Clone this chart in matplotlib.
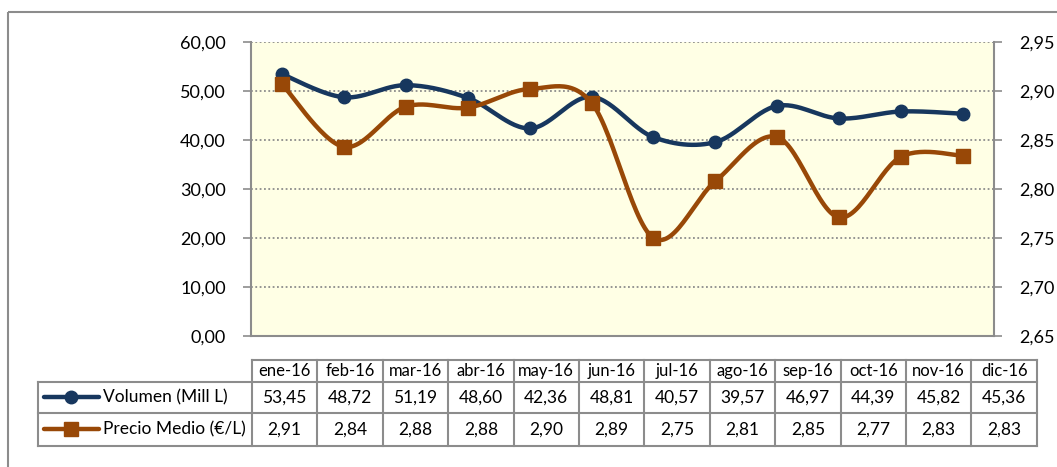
import numpy as np
import matplotlib
matplotlib.use("Agg")
import matplotlib.pyplot as plt
from matplotlib.patches import Rectangle

months = ["ene-16", "feb-16", "mar-16", "abr-16", "may-16", "jun-16",
          "jul-16", "ago-16", "sep-16", "oct-16", "nov-16", "dic-16"]
volumen = [53.45, 48.72, 51.19, 48.60, 42.36, 48.81, 40.57, 39.57, 46.97, 44.39, 45.82, 45.36]
precio = [2.907, 2.843, 2.884, 2.883, 2.902, 2.888, 2.750, 2.808, 2.853, 2.771, 2.833, 2.834]
left_ticks = [0, 10, 20, 30, 40, 50, 60]
right_ticks = [2.65, 2.70, 2.75, 2.80, 2.85, 2.90, 2.95]
series_names = ["Volumen (Mill L)", "Precio Medio (€/L)"]

NAVY = "#17375E"
BROWN = "#984807"
GRID = "#8C8C8C"
BG = "#FFFFE5"
FONT = "Lato"

W, H = 1057, 467
fig = plt.figure(figsize=(W / 100, H / 100), dpi=100)
plt.rcParams['font.family'] = [FONT, 'DejaVu Sans']

def fx(px):
    return px / W

def fy(py):
    return 1 - py / H

ax = fig.add_axes([fx(251), fy(336), fx(994) - fx(251), fy(42) - fy(336)])
ax2 = ax.twinx()
ax.set_zorder(1)
ax2.set_zorder(2)
ax.set_facecolor(BG)
ax2.patch.set_visible(False)

x = np.arange(len(months))
ax.set_xlim(-0.5, len(months) - 0.5)
ax.set_ylim(0, 60)
ax2.set_ylim(2.65, 2.95)

def comma(v):
    return f"{v:.2f}".replace(".", ",")

ax.set_yticks(left_ticks)
ax.set_yticklabels([comma(v) for v in left_ticks], fontsize=13)
ax2.set_yticks(right_ticks)
ax2.set_yticklabels([comma(v) for v in right_ticks], fontsize=13)
ax.set_xticks([])
for a in (ax, ax2):
    a.tick_params(axis='y', length=6, width=1.2, color=GRID, pad=12)
    for s in a.spines.values():
        s.set_visible(False)
ax.spines['left'].set_visible(True)
ax.spines['left'].set_color(GRID)
ax.spines['left'].set_linewidth(1.5)
ax.spines['bottom'].set_visible(True)
ax.spines['bottom'].set_color(GRID)
ax.spines['bottom'].set_linewidth(1.5)
ax2.spines['right'].set_visible(True)
ax2.spines['right'].set_color(GRID)
ax2.spines['right'].set_linewidth(1.5)
ax.yaxis.grid(True, linestyle=(0, (1, 1.4)), color=GRID, linewidth=1.3)
ax.set_axisbelow(True)


def smooth(axis, xs, ys, n=30):
    pts = axis.transData.transform(np.column_stack([xs, ys]))
    out = []
    m = len(pts)
    for i in range(m - 1):
        p0 = pts[i - 1] if i > 0 else pts[i]
        p1 = pts[i]
        p2 = pts[i + 1]
        p3 = pts[i + 2] if i + 2 < m else pts[i + 1]
        c1 = p1 + (p2 - p0) / 6
        c2 = p2 - (p3 - p1) / 6
        t = np.linspace(0, 1, n)[:, None]
        seg = ((1 - t) ** 3) * p1 + 3 * ((1 - t) ** 2) * t * c1 + 3 * (1 - t) * t ** 2 * c2 + t ** 3 * p2
        out.append(seg if i == 0 else seg[1:])
    out = np.vstack(out)
    d = axis.transData.inverted().transform(out)
    return d[:, 0], d[:, 1]

sx, sy = smooth(ax, x, volumen)
ax.plot(sx, sy, color=NAVY, lw=3.2, solid_capstyle='round', zorder=3)
ax.plot(x, volumen, 'o', color=NAVY, ms=9, zorder=4)

px_, py_ = smooth(ax2, x, precio)
ax2.plot(px_, py_, color=BROWN, lw=3.2, solid_capstyle='round', zorder=3)
ax2.plot(x, precio, 's', color=BROWN, ms=10, zorder=4)

ov = fig.add_axes([0, 0, 1, 1], zorder=5)
ov.set_xlim(0, W)
ov.set_ylim(H, 0)
ov.axis('off')
ov.patch.set_visible(False)

ov.add_patch(Rectangle((8, 12), W + 20, H + 20, fill=False, edgecolor="#8C8C8C", lw=1.5))

col_left = 252
col_w = 65.4
n = len(months)
col_right = col_left + n * col_w
tab_left = 37.5
y_head_top, y_r1, y_r2, y_bot = 360, 381.5, 413, 445.5
lc = "#8C8C8C"
lw = 1.5
ov.plot([col_left, col_right], [y_head_top, y_head_top], color=lc, lw=lw)
for yy in (y_r1, y_r2, y_bot):
    ov.plot([tab_left, col_right], [yy, yy], color=lc, lw=lw)
ov.plot([tab_left, tab_left], [y_r1, y_bot], color=lc, lw=lw)
for i in range(n + 1):
    xx = col_left + i * col_w
    ov.plot([xx, xx], [y_head_top, y_bot], color=lc, lw=lw)

fs = 12
for i, m in enumerate(months):
    cx = col_left + (i + 0.5) * col_w
    ov.text(cx, (y_head_top + y_r1) / 2, m, ha='center', va='center', fontsize=fs)
    ov.text(cx, (y_r1 + y_r2) / 2, comma(volumen[i]), ha='center', va='center', fontsize=fs + 0.5)
    ov.text(cx, (y_r2 + y_bot) / 2, comma(precio[i]), ha='center', va='center', fontsize=fs + 0.5)

for (yy0, yy1), col, mk, ms, name in [((y_r1, y_r2), NAVY, 'o', 9, series_names[0]),
                                        ((y_r2, y_bot), BROWN, 's', 10, series_names[1])]:
    cy = (yy0 + yy1) / 2
    ov.plot([44, 99], [cy, cy], color=col, lw=3.2, solid_capstyle='round')
    ov.plot([71], [cy], mk, color=col, ms=ms)
    ov.text(103, cy, name, ha='left', va='center', fontsize=fs + 0.5)

fig.savefig("out.png", dpi=100)
